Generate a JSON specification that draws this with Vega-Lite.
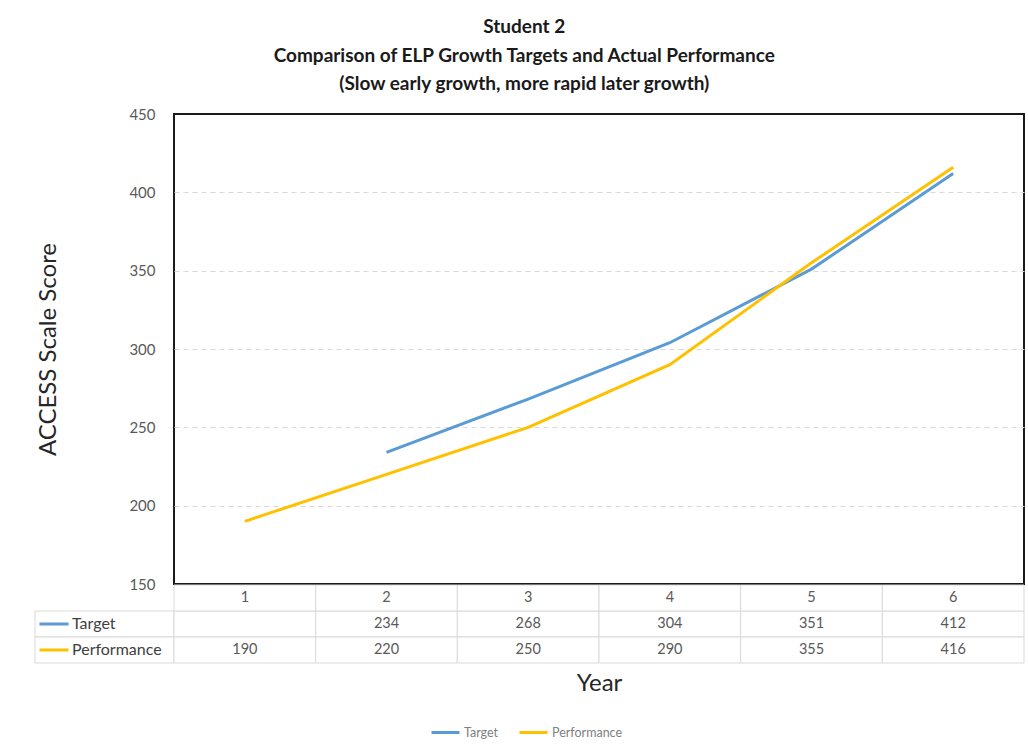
{
  "$schema": "https://vega.github.io/schema/vega-lite/v6.json",
  "background": "white",
  "padding": {"left": 33, "top": 18, "right": 4, "bottom": 4},
  "autosize": {"type": "pad"},
  "config": {"font": "Lato", "view": {"stroke": null}},
  "title": {
    "text": ["Student 2", "Comparison of ELP Growth Targets and Actual Performance", "(Slow early growth, more rapid later growth)"],
    "fontSize": 19,
    "fontWeight": "bold",
    "lineHeight": 28.5,
    "color": "#1a1a1a",
    "anchor": "middle",
    "frame": "bounds",
    "dx": -5,
    "offset": 12
  },
  "datasets": {
    "scores": [
      {"year": 1, "series": "Target", "value": null},
      {"year": 2, "series": "Target", "value": 234},
      {"year": 3, "series": "Target", "value": 268},
      {"year": 4, "series": "Target", "value": 304},
      {"year": 5, "series": "Target", "value": 351},
      {"year": 6, "series": "Target", "value": 412},
      {"year": 1, "series": "Performance", "value": 190},
      {"year": 2, "series": "Performance", "value": 220},
      {"year": 3, "series": "Performance", "value": 250},
      {"year": 4, "series": "Performance", "value": 290},
      {"year": 5, "series": "Performance", "value": 355},
      {"year": 6, "series": "Performance", "value": 416}
    ]
  },
  "columns": 2,
  "bounds": "flush",
  "spacing": {"row": 1, "column": 0},
  "resolve": {"scale": {"color": "independent"}, "legend": {"color": "independent"}},
  "concat": [
    {
      "width": 139,
      "height": 470,
      "data": {"values": [{}]},
      "mark": {"type": "text", "text": ""},
      "encoding": {}
    },
    {
      "width": 850,
      "height": 470,
      "data": {"name": "scores"},
      "transform": [{"filter": "isValid(datum.value)"}],
      "view": {"stroke": "#1a1a1a", "strokeWidth": 2},
      "mark": {"type": "line", "strokeWidth": 3},
      "encoding": {
        "x": {"field": "year", "type": "ordinal", "scale": {"type": "point", "padding": 0.5}, "axis": null},
        "y": {
          "field": "value",
          "type": "quantitative",
          "scale": {"domain": [150, 450], "nice": false, "zero": false},
          "axis": {
            "values": [150, 200, 250, 300, 350, 400, 450],
            "title": "ACCESS Scale Score",
            "titleFontSize": 24,
            "titleFontWeight": "normal",
            "titleColor": "#262626",
            "titlePadding": 68,
            "labelFontSize": 15,
            "labelColor": "#595959",
            "labelPadding": 19,
            "ticks": false,
            "domain": false,
            "grid": true,
            "gridColor": "#d9d9d9",
            "gridDash": [5, 4],
            "gridOpacity": {"condition": {"test": "datum.value == 150 || datum.value == 450", "value": 0}, "value": 1}
          }
        },
        "color": {
          "field": "series",
          "type": "nominal",
          "scale": {"domain": ["Target", "Performance"], "range": ["#5b9bd5", "#ffc000"]},
          "legend": {
            "orient": "none",
            "legendX": 256,
            "legendY": 603,
            "direction": "horizontal",
            "title": null,
            "symbolType": "stroke",
            "symbolSize": 784,
            "symbolStrokeWidth": 3,
            "labelFontSize": 12.5,
            "labelColor": "#808080",
            "columnPadding": 14,
            "labelOffset": 3
          }
        }
      }
    },
    {
      "width": 139,
      "height": 78,
      "data": {"name": "scores"},
      "transform": [{"filter": "datum.year == 1"}],
      "encoding": {
        "y": {"field": "series", "type": "nominal", "scale": {"domain": ["Year", "Target", "Performance"], "paddingInner": 0, "paddingOuter": 0}, "axis": null}
      },
      "layer": [
        {"mark": {"type": "rect", "fill": "white", "stroke": "#d9d9d9", "strokeWidth": 1}},
        {
          "mark": {"type": "point", "shape": "M-1,0H1", "filled": false, "strokeWidth": 3, "size": 841, "opacity": 1},
          "encoding": {
            "x": {"datum": "sym", "type": "nominal", "scale": {"type": "point", "domain": ["sym", "name"], "range": [19, 37], "padding": 0}, "axis": null},
            "stroke": {"condition": {"test": "datum.series === 'Target'", "value": "#5b9bd5"}, "value": "#ffc000"}
          }
        },
        {
          "mark": {"type": "text", "align": "left", "baseline": "middle", "fontSize": 16, "color": "#404040"},
          "encoding": {
            "x": {"datum": "name", "type": "nominal"},
            "text": {"field": "series"}
          }
        }
      ]
    },
    {
      "width": 850,
      "height": 78,
      "data": {"name": "scores"},
      "encoding": {
        "x": {
          "field": "year",
          "type": "ordinal",
          "scale": {"type": "band", "paddingInner": 0, "paddingOuter": 0},
          "axis": {"orient": "bottom", "title": "Year", "labels": false, "ticks": false, "domain": false, "grid": false, "titleFontSize": 24, "titleFontWeight": "normal", "titleColor": "#262626", "titlePadding": 8}
        }
      },
      "layer": [
        {
          "mark": {"type": "rect", "fill": "white", "stroke": "#d9d9d9", "strokeWidth": 1},
          "encoding": {"y": {"field": "series", "type": "nominal", "scale": {"domain": ["Year", "Target", "Performance"], "paddingInner": 0, "paddingOuter": 0}, "axis": null}}
        },
        {
          "transform": [{"filter": "datum.series === 'Target'"}],
          "mark": {"type": "rect", "fill": "white", "stroke": "#d9d9d9", "strokeWidth": 1},
          "encoding": {"y": {"datum": "Year", "type": "nominal"}}
        },
        {
          "transform": [{"filter": "isValid(datum.value)"}],
          "mark": {"type": "text", "baseline": "middle", "fontSize": 14.5, "color": "#595959"},
          "encoding": {
            "y": {"field": "series", "type": "nominal"},
            "text": {"field": "value", "type": "quantitative"}
          }
        },
        {
          "transform": [{"filter": "datum.series === 'Target'"}],
          "mark": {"type": "text", "baseline": "middle", "fontSize": 14.5, "color": "#595959"},
          "encoding": {
            "y": {"datum": "Year", "type": "nominal"},
            "text": {"field": "year", "type": "ordinal"}
          }
        }
      ]
    }
  ]
}
